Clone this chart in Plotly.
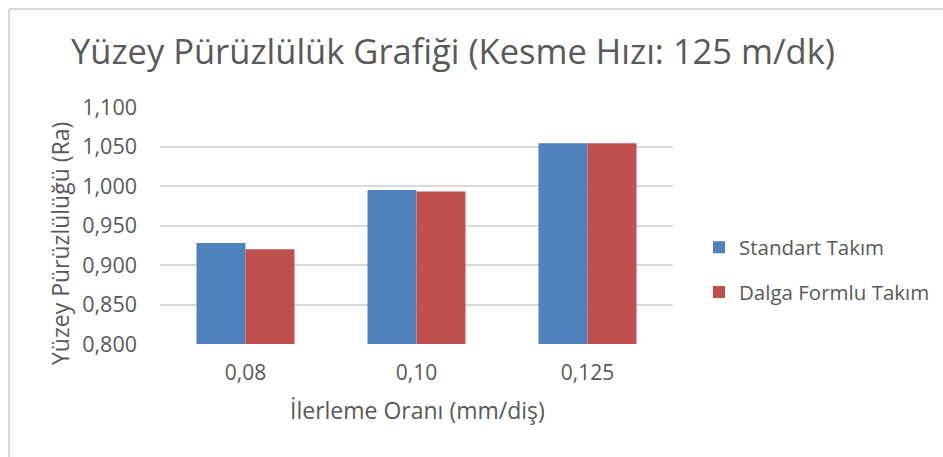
import plotly.graph_objects as go

# Feed rate categories and measured surface roughness (Ra)
categories = ["0,08", "0,10", "0,125"]
standart_takim = [0.928, 0.995, 1.054]
dalga_formlu_takim = [0.920, 0.993, 1.054]

y_ticks = [0.80, 0.85, 0.90, 0.95, 1.00, 1.05, 1.10]
y_tick_labels = ["0,800", "0,850", "0,900", "0,950", "1,000", "1,050", "1,100"]

FONT = "Open Sans"
GREY = "#595959"

W, H = 943, 457
ML, MR, MT, MB = 160, 270, 107, 113

fig = go.Figure()
fig.add_trace(go.Bar(
    x=categories, y=standart_takim, name="Standart Takım",
    marker=dict(color="#4F81BD", line=dict(width=0)), legendgroup="a",
))
fig.add_trace(go.Bar(
    x=categories, y=dalga_formlu_takim, name="Dalga Formlu Takım",
    marker=dict(color="#C0504D", line=dict(width=0)), legendgroup="b",
))

pw = W - ML - MR
ph = H - MT - MB


def px_x(v):
    return (v - ML) / pw


def px_y(v):
    return 1 - (v - MT) / ph


# light frame along the top and left of the chart area
fig.add_shape(type="line", xref="paper", yref="paper",
              x0=px_x(9), x1=px_x(W + 5), y0=px_y(9), y1=px_y(9),
              line=dict(color="#d9d9d9", width=2))
fig.add_shape(type="line", xref="paper", yref="paper",
              x0=px_x(9), x1=px_x(9), y0=px_y(9), y1=px_y(H + 5),
              line=dict(color="#d9d9d9", width=2))

# axis titles
fig.add_annotation(text="İlerleme Oranı (mm/diş)", xref="paper", yref="paper",
                   x=px_x(417), y=px_y(410), xanchor="center", yanchor="middle",
                   showarrow=False, font=dict(family=FONT, size=23, color=GREY))
fig.add_annotation(text="Yüzey Pürüzlülüğü (Ra)", xref="paper", yref="paper",
                   x=px_x(60), y=px_y(244), xanchor="center", yanchor="middle",
                   textangle=-90, showarrow=False,
                   font=dict(family=FONT, size=23, color=GREY))

fig.update_layout(
    width=W, height=H,
    margin=dict(l=ML, r=MR, t=MT, b=MB, autoexpand=False),
    paper_bgcolor="white", plot_bgcolor="white",
    barmode="group", bargap=0.427, bargroupgap=0,
    font=dict(family=FONT, color=GREY),
    title=dict(
        text="Yüzey Pürüzlülük Grafiği (Kesme Hızı: 125 m/dk)",
        x=453 / W, xanchor="center", y=1 - 52 / H, yanchor="middle",
        font=dict(family=FONT, size=34.5, color=GREY),
    ),
    xaxis=dict(
        showgrid=False, showline=False, ticks="",
        tickfont=dict(size=21, color=GREY),
        ticklabelstandoff=14,
    ),
    yaxis=dict(
        range=[0.8, 1.1], tickvals=y_ticks, ticktext=y_tick_labels,
        showgrid=True, gridcolor="#d9d9d9", gridwidth=1.5,
        zeroline=False, showline=False, ticks="",
        tickfont=dict(size=21.5, color=GREY),
        ticklabelstandoff=22,
    ),
    legend=dict(
        xref="container", yref="container",
        x=699 / W, xanchor="left", y=1 - 270 / H, yanchor="middle",
        font=dict(size=20.5, color=GREY),
        traceorder="grouped", tracegroupgap=15,
        itemwidth=30, bgcolor="rgba(0,0,0,0)",
    ),
)

fig.write_html("out.html")
